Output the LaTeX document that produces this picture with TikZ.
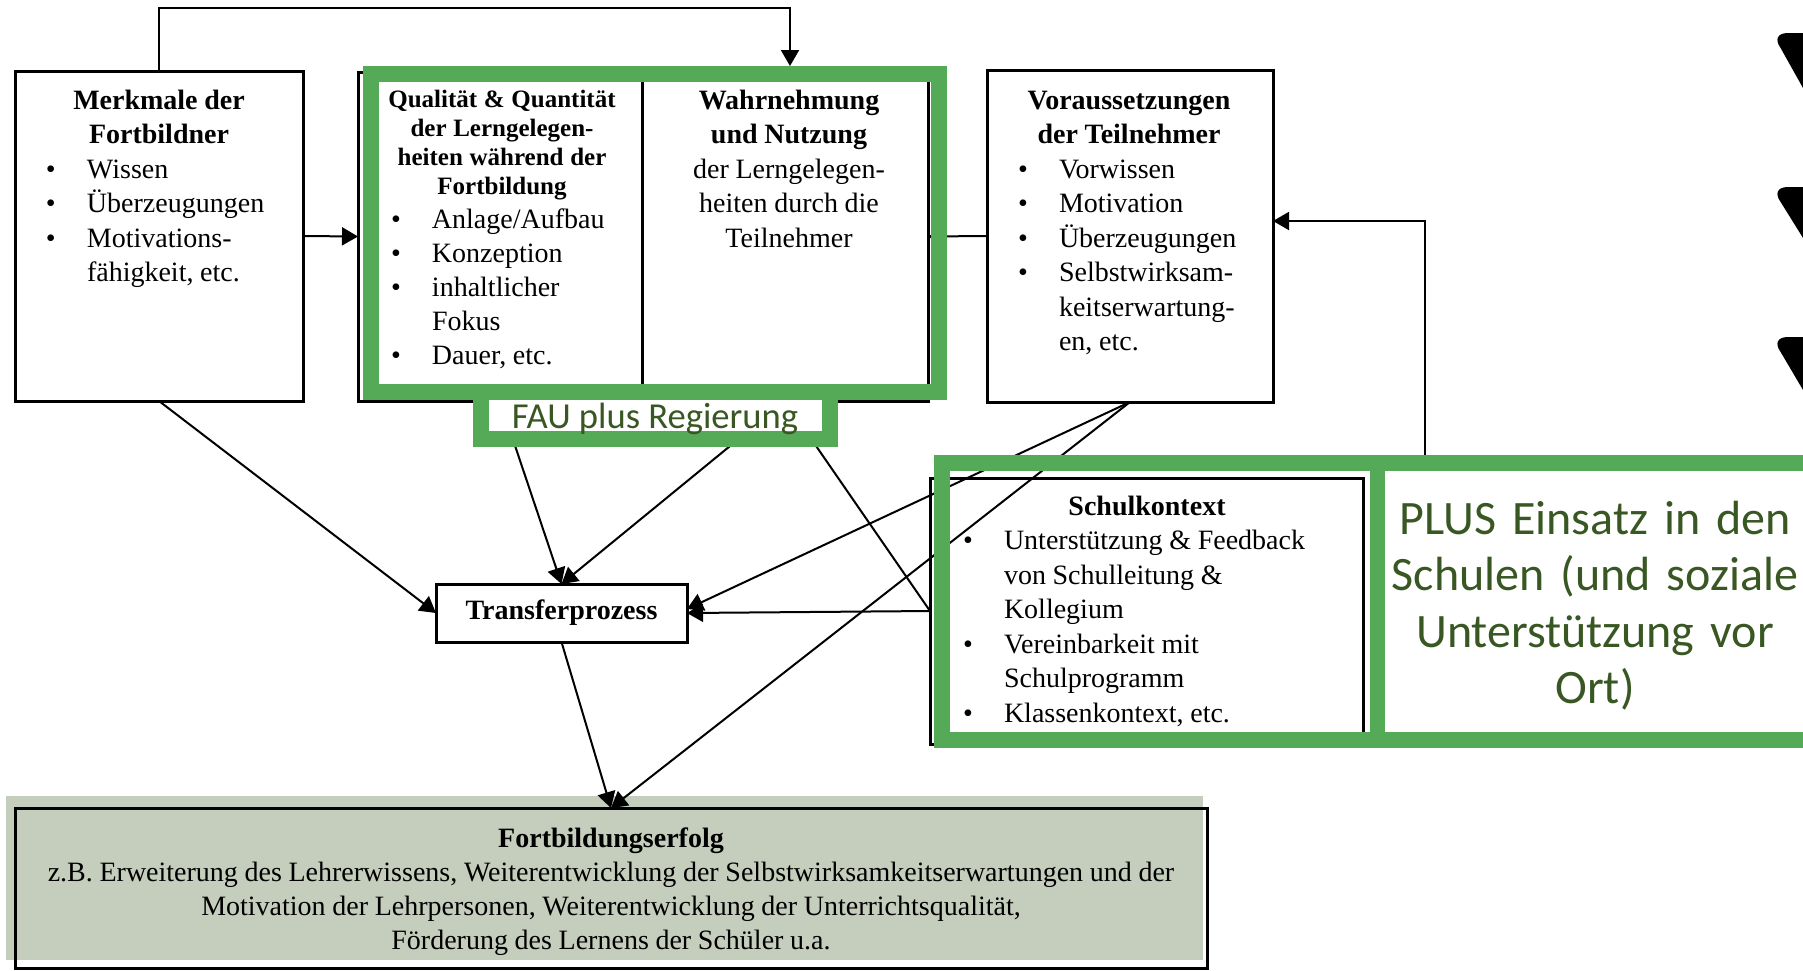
\documentclass[tikz,border=0pt]{standalone}
\usepackage{fontspec}
\setmainfont{Liberation Serif}
\newfontfamily\calfont{Carlito}
\usetikzlibrary{arrows.meta}
\definecolor{gfr}{RGB}{84,170,87}
\definecolor{gtx}{RGB}{56,87,35}
\definecolor{efill}{RGB}{197,205,188}
\setlength{\parindent}{0pt}
\newcommand{\bl}[3]{\par\noindent\makebox[#2][l]{\hspace*{#1}\textbullet}#3}
\newcommand{\cl}[2]{\par\noindent\hspace*{#1}#2}
\newcommand{\fs}{\fontsize{14pt}{17.25pt}\selectfont}
\begin{document}
\begin{tikzpicture}[x=0.5pt,y=-0.5pt,
  box/.style={draw, line width=1.5pt, inner sep=0pt, outer sep=0pt, anchor=north west},
  txt/.style={inner sep=0pt, outer sep=0pt, anchor=north west},
  arr/.style={line width=1pt, -{Triangle[length=8pt,width=9pt]}},
  gframe/.style={draw=gfr, line width=8pt}]
\useasboundingbox (0,0) rectangle (1803,970);

% fill of success box
\fill[efill] (6,796) rectangle (1203,960);

% boxes
\node[box, minimum width=144pt, minimum height=165pt] (merk) at (15,71) {};
\node[box, minimum width=285pt, minimum height=164.5pt] (mid) at (358,72) {};
\draw[line width=1.5pt] (642,72) -- (642,401);
\node[box, minimum width=143pt, minimum height=166pt] (vor) at (987,70) {};
\node[box, minimum width=125.5pt, minimum height=29pt] (trans) at (436,584) {};
\node[box, minimum width=216.5pt, minimum height=133pt] (schul) at (930,478) {};
\node[box, minimum width=596pt, minimum height=80pt] (erfolg) at (15,808) {};

% coordinates
\coordinate (topy) at (0,8);
\coordinate (wtop) at (790,66);
\coordinate (qbot) at (500,401);
\coordinate (wbot) at (785,401);
\coordinate (fb) at (1425,455);

% connectors
\draw[arr] (merk.north) -- (merk.north |- topy) -| (wtop);
\draw[arr] (merk.east) -- (mid.west);
\draw[arr] (vor.west) -- (mid.east);
\draw[arr] (merk.south) -- (trans.west);
\draw[arr] (qbot) -- (trans.north);
\draw[arr] (wbot) -- (trans.north);
\draw[arr] (schul.west) -- (wbot);
\draw[arr] (schul.west) -- (trans.east);
\draw[arr] (vor.south) -- ([yshift=2pt]trans.east);
\draw[arr] (vor.south) -- (erfolg.north);
\draw[arr] (trans.south) -- (erfolg.north);
\draw[arr] (fb) |- ([yshift=7.5pt]vor.east);

% green frames
\draw[gframe] (371,74) rectangle (939,392);
\node[draw=gfr, line width=8pt, fill=white, inner sep=0pt, outer sep=0pt, anchor=north west,
      minimum width=174.5pt, minimum height=23.5pt] (fau) at (481,392) {};
\draw[gframe] (942,463) rectangle (1815,740);
\draw[gfr, line width=7.5pt] (1377.5,463) -- (1377.5,740);

% texts
\node[txt, text width=144pt] (merkT) at (15,85) {\fs\centering\bfseries\strut Merkmale der\\Fortbildner\par
  \mdseries\raggedright
  \bl{15.5pt}{36pt}{Wissen}
  \bl{15.5pt}{36pt}{Überzeugungen}
  \bl{15.5pt}{36pt}{Motivations-}
  \cl{36pt}{fähigkeit, etc.}\par};

\node[txt, text width=140pt] (qualT) at (362,86.7) {\fontsize{12.5pt}{14.5pt}\selectfont\centering\bfseries\strut Qualität \& Quantität\\der Lerngelegen-\\heiten während der\\Fortbildung\par
  \fontsize{14pt}{17pt}\selectfont\mdseries\raggedright
  \bl{14.5pt}{35pt}{Anlage/Aufbau}
  \bl{14.5pt}{35pt}{Konzeption}
  \bl{14.5pt}{35pt}{inhaltlicher}
  \cl{35pt}{Fokus}
  \bl{14.5pt}{35pt}{Dauer, etc.}\par};

\node[txt, text width=139pt] (wahrT) at (650,85) {\fs\centering\textbf{\strut Wahrnehmung}\\\textbf{und Nutzung}\\der Lerngelegen-\\heiten durch die\\Teilnehmer\par};

\node[txt, text width=142pt] (vorT) at (987,85) {\fs\centering\bfseries\strut Voraussetzungen\\der Teilnehmer\par
  \mdseries\raggedright
  \bl{15.5pt}{36pt}{Vorwissen}
  \bl{15.5pt}{36pt}{Motivation}
  \bl{15.5pt}{36pt}{Überzeugungen}
  \bl{15.5pt}{36pt}{Selbstwirksam-}
  \cl{36pt}{keitserwartung-}
  \cl{36pt}{en, etc.}\par};

\node[txt, text width=215pt] (schulT) at (932,491) {\fs\centering\bfseries\strut Schulkontext\par
  \mdseries\raggedright
  \bl{15.5pt}{36pt}{Unterstützung \& Feedback}
  \cl{36pt}{von Schulleitung \&}
  \cl{36pt}{Kollegium}
  \bl{15.5pt}{36pt}{Vereinbarkeit mit}
  \cl{36pt}{Schulprogramm}
  \bl{15.5pt}{36pt}{Klassenkontext, etc.}\par};

\node[inner sep=0pt, font=\fs\bfseries] (transT) at (trans.center) {Transferprozess};

\node[txt, text width=596pt] (erfT) at (15,824) {\fontsize{14pt}{17pt}\selectfont\centering\textbf{\strut Fortbildungserfolg}\\z.B. Erweiterung des Lehrerwissens, Weiterentwicklung der Selbstwirksamkeitserwartungen und der\\Motivation der Lehrpersonen, Weiterentwicklung der Unterrichtsqualität,\\Förderung des Lernens der Schüler u.a.\par};

\node[inner sep=0pt, anchor=base, text=gtx, font=\calfont\fontsize{18.3pt}{22pt}\selectfont] (fauT) at (655,428) {FAU plus Regierung};

\node[inner sep=0pt, anchor=north, text width=215pt, align=center, text=gtx,
      font=\calfont\fontsize{24pt}{28.3pt}\selectfont] (plusT) at (1595,494) {\strut PLUS Einsatz in den\\Schulen (und soziale\\Unterstützung vor\\Ort)};

% cut-off glyphs at the right edge
\fill (1803,33) -- (1788,33) .. controls (1777,33) and (1775,40) .. (1780,47) -- (1803,88) -- cycle;
\fill (1803,187) -- (1788,187) .. controls (1777,187) and (1775,194) .. (1780,201) -- (1803,238) -- cycle;
\fill (1803,337) -- (1788,337) .. controls (1777,337) and (1775,344) .. (1780,351) -- (1803,390) -- cycle;
\end{tikzpicture}
\end{document}
